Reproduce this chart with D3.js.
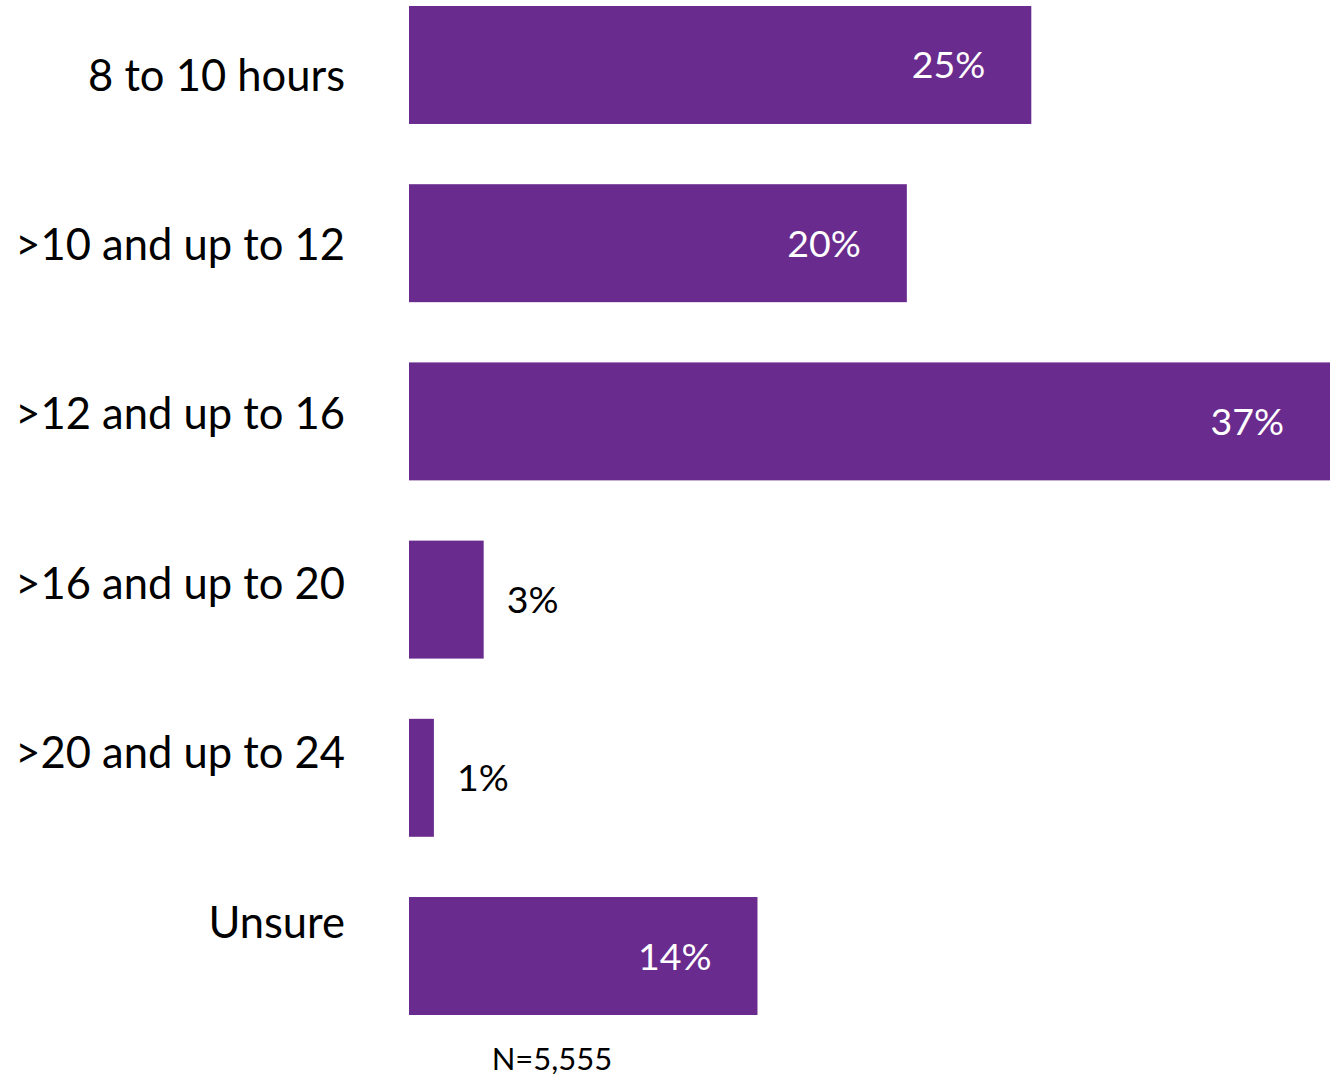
<!DOCTYPE html>
<html>
<head>
<meta charset="utf-8">
<script src="https://cdn.jsdelivr.net/npm/d3@7"></script>
<style>
  html, body { margin: 0; padding: 0; background: #fff; }
  svg { display: block; }
  text { font-family: Lato, "Open Sans", sans-serif; }
</style>
</head>
<body>
<svg id="chart" width="1330" height="1079"></svg>
<script>
// Hours worked per shift — share of respondents
const categories = ["8 to 10 hours", ">10 and up to 12", ">12 and up to 16", ">16 and up to 20", ">20 and up to 24", "Unsure"];
const values = [25, 20, 37, 3, 1, 14];
const valueLabels = ["25%", "20%", "37%", "3%", "1%", "14%"];
const note = "N=5,555";

const barColor = "#6a2b8e";
const svg = d3.select("#chart");

const x = d3.scaleLinear().domain([0, 37]).range([409, 1330]);
const y = d3.scaleBand().domain(categories).range([6, 1015]).paddingInner(0.338).paddingOuter(0);
const yLabel = d3.scalePoint().domain(categories).range([75, 922]);

const rows = categories.map((c, i) => ({ cat: c, v: values[i], label: valueLabels[i] }));

svg.append("g").selectAll("rect").data(rows).join("rect")
  .attr("x", x(0))
  .attr("y", d => y(d.cat))
  .attr("width", d => x(d.v) - x(0))
  .attr("height", y.bandwidth())
  .attr("fill", barColor);

// category names, right-aligned to the left of the bars
svg.append("g").selectAll("text").data(rows).join("text")
  .attr("x", 345)
  .attr("y", d => yLabel(d.cat))
  .attr("dy", "0.36em")
  .attr("text-anchor", "end")
  .attr("font-size", 43.5)
  .attr("fill", "#000")
  .text(d => d.cat);

// value labels: inside the bar when it is wide enough, otherwise just past its end
const inside = d => d.v >= 10;
svg.append("g").selectAll("text").data(rows).join("text")
  .attr("x", d => inside(d) ? x(d.v) - 46 : x(d.v) + 23)
  .attr("y", d => y(d.cat) + y.bandwidth() / 2)
  .attr("dy", "0.36em")
  .attr("text-anchor", d => inside(d) ? "end" : "start")
  .attr("font-size", 37.5)
  .attr("fill", d => inside(d) ? "#fff" : "#000")
  .text(d => d.label);

svg.append("text")
  .attr("x", 552)
  .attr("y", 1059)
  .attr("dy", "0.36em")
  .attr("text-anchor", "middle")
  .attr("font-size", 31)
  .attr("fill", "#000")
  .text(note);
</script>
</body>
</html>
